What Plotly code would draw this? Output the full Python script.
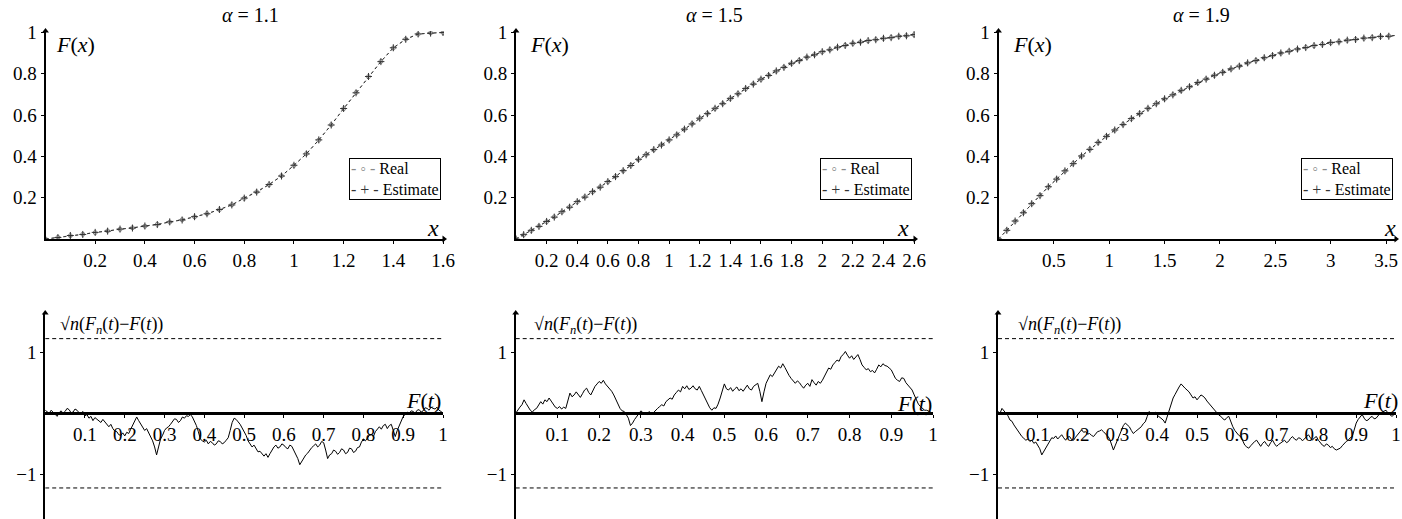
import plotly.graph_objects as go

W, H = 1402, 519
FONT = "Liberation Serif, Times New Roman, Times, serif"

# ---------------- data: top panels (CDF, real vs estimate) ----------------
titles = ["1.1", "1.5", "1.9"]
top_steps = [0.05, 0.05, 0.075]

real_11 = [0.000, 0.008, 0.016, 0.023, 0.031, 0.039, 0.047, 0.054, 0.062, 0.071,
           0.082, 0.093, 0.107, 0.123, 0.142, 0.166, 0.197, 0.228, 0.263, 0.306,
           0.356, 0.413, 0.479, 0.553, 0.631, 0.709, 0.786, 0.860, 0.925, 0.968,
           0.992, 0.998, 1.000]
est_11 = [0.000, 0.007, 0.017, 0.022, 0.032, 0.038, 0.048, 0.053, 0.063, 0.070,
          0.083, 0.092, 0.108, 0.122, 0.143, 0.165, 0.198, 0.227, 0.264, 0.305,
          0.357, 0.412, 0.480, 0.552, 0.632, 0.708, 0.787, 0.859, 0.926, 0.967,
          0.993, 0.997, 1.000]

real_15 = [0.000, 0.020, 0.041, 0.062, 0.084, 0.107, 0.131, 0.155, 0.180, 0.204,
           0.228, 0.252, 0.277, 0.303, 0.330, 0.357, 0.385, 0.409, 0.432, 0.456,
           0.479, 0.505, 0.531, 0.558, 0.584, 0.608, 0.632, 0.656, 0.680, 0.704,
           0.728, 0.751, 0.773, 0.793, 0.813, 0.832, 0.850, 0.865, 0.880, 0.893,
           0.906, 0.917, 0.928, 0.938, 0.947, 0.954, 0.960, 0.966, 0.971, 0.976,
           0.981, 0.985, 0.989]
est_15 = [0.000, 0.021, 0.042, 0.061, 0.085, 0.106, 0.132, 0.154, 0.181, 0.203,
          0.229, 0.251, 0.278, 0.302, 0.331, 0.356, 0.386, 0.408, 0.433, 0.455,
          0.480, 0.504, 0.532, 0.557, 0.585, 0.607, 0.633, 0.655, 0.681, 0.703,
          0.729, 0.750, 0.774, 0.792, 0.814, 0.831, 0.851, 0.864, 0.881, 0.892,
          0.907, 0.916, 0.929, 0.937, 0.948, 0.953, 0.961, 0.965, 0.972, 0.975,
          0.982, 0.984, 0.990]

real_19 = [0.000, 0.043, 0.086, 0.128, 0.170, 0.211, 0.252, 0.291, 0.329, 0.366,
           0.401, 0.435, 0.467, 0.498, 0.527, 0.555, 0.582, 0.608, 0.632, 0.656,
           0.678, 0.699, 0.719, 0.738, 0.757, 0.775, 0.792, 0.808, 0.823, 0.838,
           0.852, 0.865, 0.877, 0.889, 0.900, 0.910, 0.919, 0.928, 0.936, 0.943,
           0.950, 0.956, 0.962, 0.967, 0.972, 0.976, 0.980, 0.983, 0.986]
est_19 = [0.000, 0.042, 0.087, 0.127, 0.171, 0.210, 0.253, 0.290, 0.330, 0.365,
          0.402, 0.434, 0.468, 0.497, 0.528, 0.554, 0.583, 0.607, 0.633, 0.655,
          0.679, 0.698, 0.720, 0.737, 0.758, 0.774, 0.793, 0.807, 0.824, 0.837,
          0.853, 0.864, 0.878, 0.888, 0.901, 0.909, 0.920, 0.927, 0.937, 0.942,
          0.951, 0.955, 0.963, 0.966, 0.973, 0.975, 0.981, 0.982, 0.987]

top_real = [real_11, real_15, real_19]
top_est = [est_11, est_15, est_19]
series_names = ["Real", "Estimate"]

top_xticks = [["0.2", "0.4", "0.6", "0.8", "1", "1.2", "1.4", "1.6"],
              ["0.2", "0.4", "0.6", "0.8", "1", "1.2", "1.4", "1.6", "1.8", "2", "2.2", "2.4", "2.6"],
              ["0.5", "1", "1.5", "2", "2.5", "3", "3.5"]]
top_yticks = ["0.2", "0.4", "0.6", "0.8", "1"]

# ---------------- data: bottom panels (empirical process) ----------------
proc_11 = [0.05, 0.02, 0.00, 0.05, 0.02, -0.02, -0.05, 0.01, 0.04, 0.00,
           0.03, 0.08, 0.06, 0.01, 0.02, 0.07, 0.05, 0.01, 0.00, 0.03,
           -0.04, -0.02, -0.08, -0.05, -0.12, -0.07, -0.10, -0.13, -0.15, -0.10,
           -0.14, -0.19, -0.22, -0.18, -0.25, -0.29, -0.30, -0.35, -0.36, -0.32,
           -0.37, -0.31, -0.33, -0.26, -0.20, -0.12, -0.06, -0.12, -0.18, -0.24,
           -0.28, -0.25, -0.32, -0.38, -0.45, -0.55, -0.68, -0.55, -0.42, -0.36,
           -0.28, -0.24, -0.22, -0.18, -0.14, -0.09, -0.10, -0.15, -0.12, -0.06,
           -0.08, -0.04, -0.05, -0.02, -0.06, -0.12, -0.20, -0.30, -0.42, -0.45,
           -0.47, -0.44, -0.50, -0.46, -0.48, -0.52, -0.50, -0.45, -0.46, -0.50,
           -0.48, -0.44, -0.40, -0.28, -0.15, -0.08, -0.10, -0.14, -0.18, -0.24,
           -0.30, -0.36, -0.45, -0.50, -0.55, -0.52, -0.58, -0.63, -0.62, -0.67,
           -0.70, -0.66, -0.72, -0.66, -0.60, -0.55, -0.52, -0.57, -0.55, -0.50,
           -0.52, -0.56, -0.58, -0.52, -0.54, -0.60, -0.66, -0.74, -0.84, -0.78,
           -0.72, -0.68, -0.65, -0.60, -0.56, -0.53, -0.50, -0.55, -0.52, -0.46,
           -0.48, -0.60, -0.74, -0.68, -0.66, -0.60, -0.62, -0.67, -0.64, -0.58,
           -0.60, -0.66, -0.64, -0.57, -0.58, -0.64, -0.62, -0.56, -0.55, -0.47,
           -0.42, -0.45, -0.40, -0.36, -0.35, -0.38, -0.30, -0.26, -0.22, -0.26,
           -0.20, -0.18, -0.25, -0.20, -0.18, -0.28, -0.38, -0.28, -0.20, -0.12,
           -0.05, -0.02, 0.02, 0.00, 0.04, 0.03, 0.00, 0.05, 0.06, 0.02,
           0.04, 0.09, 0.08, 0.05, 0.10, 0.08, 0.07, 0.10, 0.05, 0.03,
           0.00]

proc_15 = [0.00, 0.06, 0.10, 0.14, 0.22, 0.16, 0.10, 0.05, 0.02, 0.06,
           0.08, 0.14, 0.19, 0.15, 0.22, 0.19, 0.25, 0.20, 0.14, 0.10,
           0.08, 0.11, 0.07, 0.10, 0.08, 0.20, 0.33, 0.27, 0.30, 0.35,
           0.31, 0.26, 0.32, 0.38, 0.41, 0.34, 0.30, 0.38, 0.44, 0.48,
           0.52, 0.49, 0.54, 0.48, 0.44, 0.40, 0.36, 0.30, 0.22, 0.14,
           0.08, 0.04, 0.03, -0.02, -0.08, -0.20, -0.16, -0.10, -0.05, 0.00,
           0.04, 0.01, 0.00, -0.02, 0.03, -0.01, 0.01, 0.05, 0.08, 0.11,
           0.14, 0.12, 0.19, 0.22, 0.25, 0.23, 0.30, 0.34, 0.38, 0.35,
           0.44, 0.40, 0.45, 0.39, 0.41, 0.45, 0.40, 0.38, 0.44, 0.37,
           0.30, 0.22, 0.14, 0.09, 0.05, 0.09, 0.08, 0.15, 0.25, 0.36,
           0.48, 0.40, 0.38, 0.42, 0.36, 0.40, 0.43, 0.37, 0.40, 0.36,
           0.41, 0.46, 0.40, 0.38, 0.44, 0.47, 0.49, 0.36, 0.19, 0.35,
           0.49, 0.56, 0.63, 0.60, 0.66, 0.70, 0.77, 0.74, 0.81, 0.75,
           0.68, 0.62, 0.57, 0.52, 0.49, 0.53, 0.50, 0.45, 0.41, 0.46,
           0.49, 0.44, 0.55, 0.50, 0.46, 0.52, 0.49, 0.54, 0.60, 0.68,
           0.74, 0.72, 0.79, 0.83, 0.87, 0.85, 0.93, 0.96, 1.01, 0.95,
           0.90, 0.94, 0.88, 0.92, 0.96, 0.88, 0.79, 0.75, 0.71, 0.73,
           0.68, 0.70, 0.66, 0.72, 0.79, 0.76, 0.81, 0.78, 0.77, 0.74,
           0.71, 0.64, 0.57, 0.54, 0.52, 0.58, 0.57, 0.50, 0.46, 0.42,
           0.38, 0.30, 0.22, 0.15, 0.11, 0.08, 0.05, 0.05, 0.03, 0.01,
           0.00]

proc_19 = [0.03, 0.00, 0.08, 0.04, 0.00, -0.04, -0.11, -0.13, -0.19, -0.24,
           -0.30, -0.33, -0.38, -0.41, -0.44, -0.42, -0.46, -0.44, -0.49, -0.47,
           -0.52, -0.58, -0.68, -0.62, -0.57, -0.50, -0.44, -0.40, -0.41, -0.37,
           -0.42, -0.38, -0.35, -0.40, -0.44, -0.39, -0.38, -0.43, -0.44, -0.39,
           -0.35, -0.31, -0.27, -0.31, -0.30, -0.34, -0.33, -0.36, -0.38, -0.34,
           -0.30, -0.29, -0.27, -0.30, -0.33, -0.37, -0.41, -0.50, -0.60, -0.52,
           -0.44, -0.36, -0.27, -0.20, -0.16, -0.19, -0.22, -0.28, -0.33, -0.30,
           -0.27, -0.25, -0.22, -0.17, -0.14, -0.05, 0.03, -0.02, 0.00, 0.02,
           -0.03, -0.06, -0.08, -0.11, -0.16, -0.05, 0.05, 0.15, 0.25, 0.31,
           0.38, 0.43, 0.48, 0.44, 0.41, 0.38, 0.35, 0.30, 0.25, 0.27,
           0.22, 0.26, 0.30, 0.28, 0.25, 0.20, 0.16, 0.12, 0.08, 0.04,
           0.00, -0.03, -0.05, -0.09, -0.11, -0.07, -0.05, -0.14, -0.22, -0.28,
           -0.33, -0.36, -0.38, -0.45, -0.52, -0.55, -0.57, -0.53, -0.49, -0.46,
           -0.44, -0.50, -0.54, -0.49, -0.46, -0.51, -0.54, -0.48, -0.44, -0.50,
           -0.54, -0.51, -0.49, -0.46, -0.44, -0.48, -0.46, -0.41, -0.38, -0.42,
           -0.44, -0.40, -0.41, -0.45, -0.42, -0.38, -0.35, -0.40, -0.44, -0.40,
           -0.38, -0.44, -0.49, -0.52, -0.54, -0.50, -0.52, -0.56, -0.54, -0.58,
           -0.60, -0.58, -0.57, -0.53, -0.49, -0.46, -0.44, -0.40, -0.38, -0.28,
           -0.16, -0.10, -0.05, -0.02, -0.08, -0.12, -0.11, -0.07, -0.05, -0.09,
           -0.08, -0.04, 0.00, 0.02, 0.03, 0.05, 0.00, -0.02, -0.05, -0.02,
           0.00]

processes = [proc_11, proc_15, proc_19]
band_t = [0.0, 1.0]
band_hi = [1.22, 1.22]
band_lo = [-1.22, -1.22]
bottom_xticks = ["0.1", "0.2", "0.3", "0.4", "0.5", "0.6", "0.7", "0.8", "0.9", "1"]
bottom_yticks = ["\u22121", "1"]

# ---------------- layout geometry (pixels) ----------------
def px(x):
    return x / W

def py(y):
    return 1 - y / H

top_x_px = [(45.5, 444.0), (516.0, 915.0), (998.5, 1396.0)]
top_x_end = [1.604, 2.606, 3.59]
top_y0, top_y1 = 239.0, 31.0
top_yunit = 206.5
bot_x_px = [(45.2, 443.0), (515.7, 933.0), (998.0, 1396.0)]
bot_zero = 413.3
bot_unit = 61.2
bot_top = 313.0

fig = go.Figure()

tickfont = dict(family=FONT, size=19, color="black")
REAL_C = "#8a8a8a"
EST_C = "#333333"

for i in range(3):
    xa = f"x{i+1}" if i > 0 else "x"
    ya = f"y{i+1}" if i > 0 else "y"
    step = top_steps[i]
    xs = [round(k * step, 4) for k in range(len(top_real[i]))]
    fig.add_trace(go.Scatter(
        x=xs, y=top_real[i], name=series_names[0], xaxis=xa, yaxis=ya, showlegend=False,
        mode="lines+markers",
        line=dict(color=REAL_C, width=1, dash="3px,3px"),
        marker=dict(symbol="circle-open", size=4, color=REAL_C, line=dict(width=1)),
    ))
    fig.add_trace(go.Scatter(
        x=xs, y=top_est[i], name=series_names[1], xaxis=xa, yaxis=ya, showlegend=False,
        mode="lines+markers",
        line=dict(color=EST_C, width=1, dash="3px,3px"),
        marker=dict(symbol="cross-thin", size=5, color=EST_C, line=dict(width=1, color=EST_C)),
    ))

for i in range(3):
    j = i + 4
    xa, ya = f"x{j}", f"y{j}"
    vals = processes[i]
    n = len(vals) - 1
    ts = [k / n for k in range(n + 1)]
    fig.add_trace(go.Scatter(x=ts, y=vals, xaxis=xa, yaxis=ya, mode="lines",
                             line=dict(color="black", width=1), showlegend=False))
    for b in (band_hi, band_lo):
        fig.add_trace(go.Scatter(x=band_t, y=b, xaxis=xa, yaxis=ya, mode="lines",
                                 line=dict(color="black", width=1, dash="4px,3px"),
                                 showlegend=False))

layout = dict(
    template="none",
    width=W, height=H,
    margin=dict(l=0, r=0, t=0, b=0, autoexpand=False),
    paper_bgcolor="white", plot_bgcolor="rgba(0,0,0,0)",
    font=dict(family=FONT, size=18, color="black"),
    showlegend=False,
)

axis_common = dict(showgrid=False, zeroline=False, showline=True, linecolor="black",
                   linewidth=2, ticks="outside", ticklen=3, tickwidth=1, tickcolor="black",
                   tickfont=tickfont, fixedrange=True, automargin=False)

top_yr = (top_y0 - top_y1) / top_yunit
ylo = (bot_zero - H) / bot_unit
yhi = (bot_zero - bot_top) / bot_unit

for i in range(3):
    key = "" if i == 0 else str(i + 1)
    x0p, x1p = top_x_px[i]
    layout[f"xaxis{key}"] = dict(axis_common, domain=[px(x0p), px(x1p)],
                                 range=[0, top_x_end[i]], anchor=f"y{key}",
                                 tickvals=[float(t) for t in top_xticks[i]],
                                 ticktext=top_xticks[i])
    layout[f"yaxis{key}"] = dict(axis_common, domain=[py(top_y0), py(top_y1)],
                                 range=[0, top_yr], anchor=f"x{key}",
                                 tickvals=[float(t) for t in top_yticks], ticktext=top_yticks)

for i in range(3):
    key = str(i + 4)
    x0p, x1p = bot_x_px[i]
    layout[f"xaxis{key}"] = dict(axis_common, domain=[px(x0p), px(x1p)], range=[0, 1],
                                 anchor="free", position=py(bot_zero), linewidth=2.5,
                                 tickvals=[float(t) for t in bottom_xticks],
                                 ticktext=bottom_xticks)
    layout[f"yaxis{key}"] = dict(axis_common, domain=[0, py(bot_top)], range=[ylo, yhi],
                                 anchor=f"x{key}", tickvals=[-1, 1], ticktext=bottom_yticks)

# axis arrowheads as markers at the ends of the axes
for i in range(3):
    xa = f"x{i+1}" if i > 0 else "x"
    ya = f"y{i+1}" if i > 0 else "y"
    fig.add_trace(go.Scatter(x=[0], y=[top_yr], xaxis=xa, yaxis=ya, mode="markers",
                             marker=dict(symbol="triangle-up", size=6, color="black"),
                             cliponaxis=False, showlegend=False, hoverinfo="skip"))
    fig.add_trace(go.Scatter(x=[top_x_end[i]], y=[0], xaxis=xa, yaxis=ya, mode="markers",
                             marker=dict(symbol="triangle-right", size=6, color="black"),
                             cliponaxis=False, showlegend=False, hoverinfo="skip"))
    j = i + 4
    fig.add_trace(go.Scatter(x=[0], y=[yhi], xaxis=f"x{j}", yaxis=f"y{j}", mode="markers",
                             marker=dict(symbol="triangle-up", size=6, color="black"),
                             cliponaxis=False, showlegend=False, hoverinfo="skip"))

annotations = []
title_cx = [250, 714, 1201]
fx_cx = [75, 549, 1032]
xl_cx = [433, 903, 1390]
sq_cx = [111, 585, 1069]
ft_cx = [423, 914, 1380]
ft_cy = [400, 403, 400]
leg_right = [441, 912, 1393]
legend_text = (f"<span style='color:{REAL_C}'>- \u25e6 -</span> {series_names[0]}<br>"
               f"<span style='color:{EST_C}'>- + -</span> {series_names[1]}")
for i in range(3):
    annotations.append(dict(text=f"<i>\u03b1</i> = {titles[i]}", x=px(title_cx[i]), y=py(15),
                            xref="paper", yref="paper", showarrow=False,
                            xanchor="center", yanchor="middle",
                            font=dict(family=FONT, size=20)))
    annotations.append(dict(text="<i>F</i>(<i>x</i>)", x=px(fx_cx[i]), y=py(44),
                            xref="paper", yref="paper", showarrow=False,
                            xanchor="center", yanchor="middle",
                            font=dict(family=FONT, size=22)))
    annotations.append(dict(text="<i>x</i>", x=px(xl_cx[i]), y=py(228),
                            xref="paper", yref="paper", showarrow=False,
                            xanchor="center", yanchor="middle",
                            font=dict(family=FONT, size=24)))
    annotations.append(dict(text="\u221a<i>n</i>(<i>F<sub>n</sub></i>(<i>t</i>)\u2212<i>F</i>(<i>t</i>))",
                            x=px(sq_cx[i]), y=py(325), xref="paper", yref="paper",
                            xanchor="center", yanchor="middle",
                            showarrow=False, font=dict(family=FONT, size=18)))
    annotations.append(dict(text="<i>F</i>(<i>t</i>)", x=px(ft_cx[i]), y=py(ft_cy[i]),
                            xref="paper", yref="paper", showarrow=False,
                            xanchor="center", yanchor="middle",
                            font=dict(family=FONT, size=22)))
    annotations.append(dict(text=legend_text, x=px(leg_right[i]), y=py(158),
                            xref="paper", yref="paper", showarrow=False,
                            xanchor="right", yanchor="top", align="left",
                            bgcolor="white", bordercolor="black", borderwidth=1, borderpad=1,
                            font=dict(family=FONT, size=16, color="black")))

layout["annotations"] = annotations
fig.update_layout(**layout)
fig.write_html("out.html", config={"displayModeBar": False},
               post_script="document.body.style.margin='0';document.body.style.padding='0';")
